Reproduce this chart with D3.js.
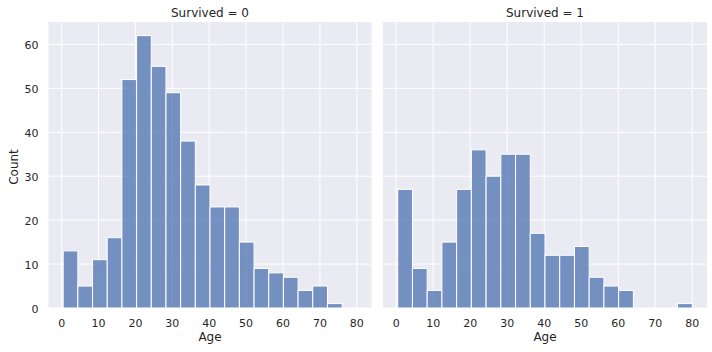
<!DOCTYPE html>
<html>
<head>
<meta charset="utf-8">
<script src="https://cdn.jsdelivr.net/npm/d3@7"></script>
<style>
  body { margin: 0; background: #fff; }
  text { font-family: "DejaVu Sans", sans-serif; fill: #262626; }
</style>
</head>
<body>
<div id="chart"></div>
<script>
// Age histograms faceted by Survived (shared bins)

const width = 712, height = 352;

// common bins for both facets: 20 bins from min to max age
const ageMin = 0.42, ageMax = 80, binCount = 20;
const binEdges = d3.range(binCount + 1).map(i => ageMin + i * (ageMax - ageMin) / binCount);

const facets = ["Survived = 0", "Survived = 1"];
const countsDied = [13, 5, 11, 16, 52, 62, 55, 49, 38, 28, 23, 23, 15, 9, 8, 7, 4, 5, 1, 0];
const countsSurvived = [27, 9, 4, 15, 27, 36, 30, 35, 35, 17, 12, 12, 14, 7, 5, 4, 0, 0, 0, 1];
const xTicks = [0, 10, 20, 30, 40, 50, 60, 70, 80];
const yTicks = [0, 10, 20, 30, 40, 50, 60];

const panels = [
  { title: facets[0], counts: countsDied, x0: 48.5, x1: 371.5, showY: true },
  { title: facets[1], counts: countsSurvived, x0: 383, x1: 707, showY: false }
];
const plotTop = 22, plotBottom = 308;

const svg = d3.select("#chart")
  .append("svg")
  .attr("width", width)
  .attr("height", height);

const pad = (ageMax - ageMin) * 0.05;
const yMax = d3.max(panels, p => d3.max(p.counts)) * 1.05;

const y = d3.scaleLinear()
  .domain([0, yMax])
  .range([plotBottom, plotTop]);

panels.forEach(p => {
  const x = d3.scaleLinear()
    .domain([ageMin - pad, ageMax + pad])
    .range([p.x0, p.x1]);

  const g = svg.append("g");

  g.append("rect")
    .attr("x", p.x0)
    .attr("y", plotTop)
    .attr("width", p.x1 - p.x0)
    .attr("height", plotBottom - plotTop)
    .attr("fill", "#EAEAF2");

  // grid
  g.selectAll(".vgrid")
    .data(xTicks)
    .join("line")
    .attr("x1", d => x(d)).attr("x2", d => x(d))
    .attr("y1", plotTop).attr("y2", plotBottom)
    .attr("stroke", "#fff").attr("stroke-width", 1);

  g.selectAll(".hgrid")
    .data(yTicks)
    .join("line")
    .attr("x1", p.x0).attr("x2", p.x1)
    .attr("y1", d => y(d)).attr("y2", d => y(d))
    .attr("stroke", "#fff").attr("stroke-width", 1);

  // bars
  const bins = p.counts.map((c, i) => ({ x0: binEdges[i], x1: binEdges[i + 1], n: c }))
    .filter(d => d.n > 0);

  g.selectAll(".bar")
    .data(bins)
    .join("rect")
    .attr("x", d => x(d.x0))
    .attr("y", d => y(d.n))
    .attr("width", d => x(d.x1) - x(d.x0))
    .attr("height", d => y(0) - y(d.n))
    .attr("fill", "#4C72B0")
    .attr("fill-opacity", 0.75)
    .attr("stroke", "#fff")
    .attr("stroke-width", 1);

  // x tick labels
  g.selectAll(".xt")
    .data(xTicks)
    .join("text")
    .attr("x", d => x(d))
    .attr("y", plotBottom + 19)
    .attr("text-anchor", "middle")
    .attr("font-size", 11)
    .text(d => d);

  g.append("text")
    .attr("x", (p.x0 + p.x1) / 2)
    .attr("y", 341)
    .attr("text-anchor", "middle")
    .attr("font-size", 12)
    .text("Age");

  g.append("text")
    .attr("x", (p.x0 + p.x1) / 2)
    .attr("y", 16.5)
    .attr("text-anchor", "middle")
    .attr("font-size", 12)
    .text(p.title);

  if (p.showY) {
    g.selectAll(".yt")
      .data(yTicks)
      .join("text")
      .attr("x", p.x0 - 10)
      .attr("y", d => y(d) + 4.5)
      .attr("text-anchor", "end")
      .attr("font-size", 11)
      .text(d => d);

    g.append("text")
      .attr("transform", `translate(18,${(plotTop + plotBottom) / 2 + 2}) rotate(-90)`)
      .attr("text-anchor", "middle")
      .attr("font-size", 12)
      .text("Count");
  }
});
</script>
</body>
</html>
